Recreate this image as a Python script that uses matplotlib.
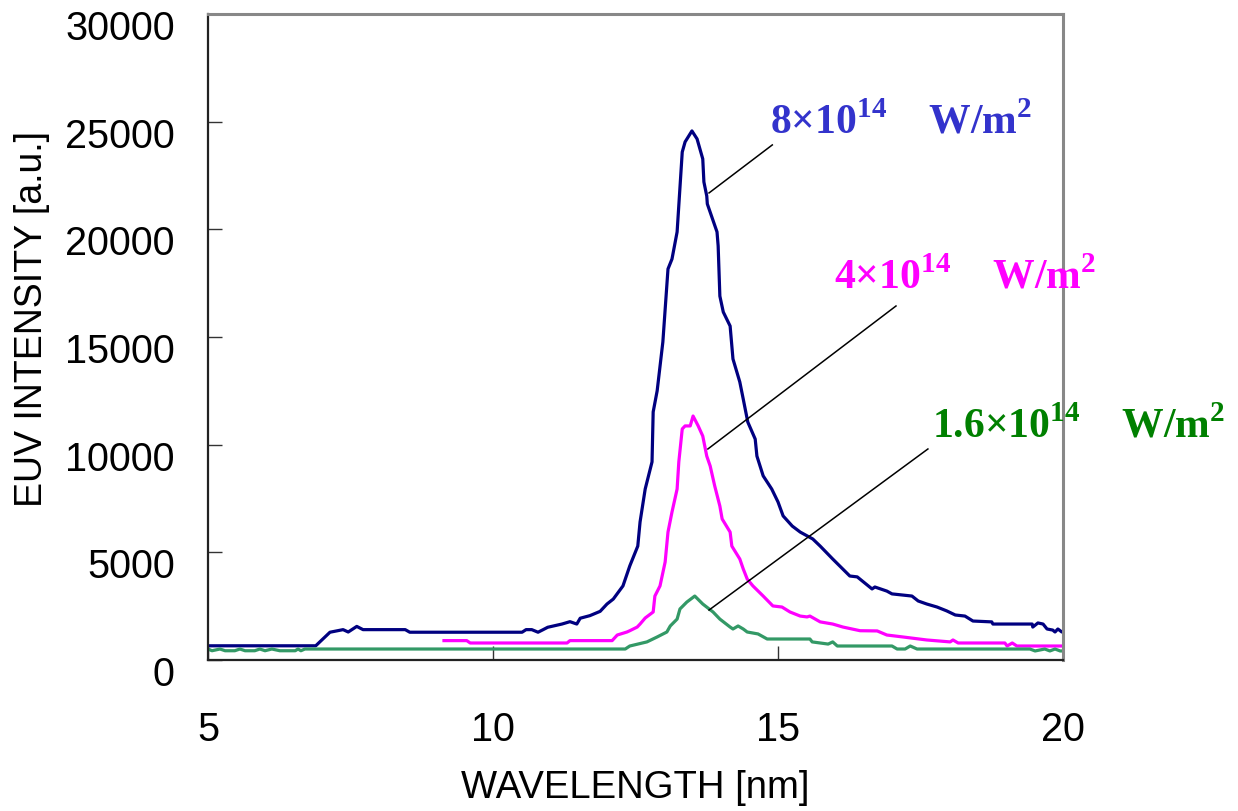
import matplotlib.pyplot as plt
import matplotlib.transforms as mtransforms

plt.rcParams['font.family'] = ['Liberation Sans', 'DejaVu Sans']
plt.rcParams['mathtext.fontset'] = 'custom'
plt.rcParams['mathtext.rm'] = 'Liberation Serif:bold'
plt.rcParams['mathtext.bf'] = 'Liberation Serif:bold'

# EUV spectra at three laser intensities
wl_8e14 = [5.00, 6.89, 7.14, 7.37, 7.46, 7.61, 7.72, 8.46, 8.54, 10.51, 10.58, 10.68,
           10.79, 10.88, 10.96, 11.21, 11.35, 11.47, 11.53, 11.70, 11.88, 12.00, 12.11,
           12.28, 12.40, 12.54, 12.58, 12.67, 12.79, 12.81, 12.88, 12.98, 13.07, 13.14,
           13.23, 13.32, 13.37, 13.49, 13.58, 13.68, 13.70, 13.75, 13.76, 13.93, 13.95,
           13.98, 14.04, 14.16, 14.21, 14.33, 14.39, 14.47, 14.60, 14.63, 14.74, 14.89,
           15.00, 15.09, 15.25, 15.39, 15.61, 15.74, 15.96, 16.26, 16.39, 16.65, 16.70,
           16.91, 17.00, 17.35, 17.46, 17.61, 17.79, 17.96, 18.11, 18.28, 18.42, 18.75,
           18.77, 19.46, 19.47, 19.56, 19.65, 19.72, 19.82, 19.86, 19.91, 19.98, 20.00]
int_8e14 = [660, 660, 1290, 1410, 1300, 1560, 1410, 1410, 1290, 1290, 1410, 1410,
            1290, 1410, 1520, 1670, 1780, 1670, 1940, 2060, 2260, 2600, 2830,
            3440, 4370, 5290, 6410, 7940, 9200, 11520, 12500, 14770, 18160, 18620,
            19880, 23590, 24060, 24570, 24200, 23270, 22200, 21550, 21180, 19880, 19230,
            16900, 16160, 15510, 13980, 12910, 12120, 11050, 10260, 9470, 8550, 7940,
            7340, 6690, 6220, 5940, 5620, 5290, 4690, 3900, 3860, 3300, 3390,
            3200, 3070, 2970, 2740, 2600, 2460, 2280, 2090, 2040, 1810, 1770,
            1670, 1670, 1530, 1720, 1670, 1440, 1390, 1300, 1440, 1300, 1300]

wl_4e14 = [9.14, 9.54, 9.60, 11.30, 11.35, 12.09, 12.18, 12.35, 12.40, 12.53, 12.58,
           12.67, 12.81, 12.84, 12.93, 13.02, 13.07, 13.14, 13.23, 13.26, 13.32, 13.37,
           13.46, 13.51, 13.60, 13.68, 13.75, 13.81, 13.89, 13.98, 14.02, 14.16, 14.19,
           14.33, 14.39, 14.46, 14.56, 14.74, 14.91, 15.07, 15.21, 15.39, 15.51, 15.56,
           15.74, 15.96, 16.14, 16.44, 16.74, 16.91, 17.19, 17.61, 18.02, 18.07, 18.16,
           18.98, 19.02, 19.11, 19.19, 20.00]
int_4e14 = [900, 900, 790, 790, 900, 900, 1160, 1300, 1360, 1530, 1670,
            1950, 2230, 2970, 3440, 4550, 5940, 6870, 7940, 9200, 10730, 10870,
            10870, 11330, 10870, 10400, 9470, 9010, 8080, 7150, 6550, 5940, 5290,
            4690, 4230, 3760, 3440, 2970, 2510, 2460, 2230, 2040, 2000, 2040,
            1770, 1670, 1530, 1360, 1350, 1160, 1070, 930, 840, 930, 790,
            790, 650, 790, 650, 650]

wl_16e14 = [5.00, 5.07, 5.21, 5.30, 5.47, 5.56, 5.65, 5.82, 5.91, 6.00, 6.12, 6.26,
            6.53, 6.58, 6.63, 6.70, 12.32, 12.40, 12.70, 12.88, 13.05, 13.11, 13.23,
            13.28, 13.40, 13.54, 13.68, 13.86, 13.98, 14.16, 14.21, 14.30, 14.39, 14.46,
            14.65, 14.81, 15.56, 15.60, 15.88, 15.96, 16.04, 17.00, 17.09, 17.23, 17.32,
            17.44, 19.42, 19.51, 19.68, 19.77, 19.86, 19.95, 20.00]
int_16e14 = [510, 430, 510, 430, 430, 510, 430, 430, 510, 430, 510, 430,
             430, 510, 430, 510, 510, 650, 840, 1070, 1300, 1580, 1900,
             2370, 2690, 2970, 2600, 2230, 1900, 1530, 1440, 1580, 1440, 1300,
             1210, 975, 975, 840, 740, 840, 650, 650, 510, 510, 650,
             510, 510, 420, 510, 420, 510, 420, 420]

labels = ["8×10$^{14}$    W/m$^{2}$",
          "4×10$^{14}$    W/m$^{2}$",
          "1.6×10$^{14}$    W/m$^{2}$"]
label_xy = [(14.86, 24520), (15.98, 17280), (17.70, 10400)]
leader_start = [(13.79, 21690), (13.77, 9800), (13.79, 2320)]
leader_end = [(14.90, 23920), (17.07, 16440), (17.63, 9800)]
label_colors = ['#3333CC', '#FF00FF', '#008000']

fig = plt.figure(figsize=(12.38, 8.12), dpi=100)
ax = fig.add_axes([208 / 1238, 1 - 661 / 812, 855 / 1238, 646 / 812])

ax.plot(wl_8e14, int_8e14, color='#000080', lw=2.3)
ax.plot(wl_4e14, int_4e14, color='#FF00FF', lw=2.3)
ax.plot(wl_16e14, int_16e14, color='#339966', lw=2.3)

for text, xy, p0, p1, c in zip(labels, label_xy, leader_start, leader_end, label_colors):
    ax.plot([p0[0], p1[0]], [p0[1], p1[1]], color='black', lw=1.1)
    ax.text(xy[0], xy[1], text, color=c, fontsize=30, fontweight='bold',
            family='Liberation Serif', ha='left', va='baseline', clip_on=False)

ax.set_xlim(5, 20)
ax.set_ylim(0, 30000)
ax.set_xticks([5, 10, 15, 20])
ax.set_yticks(range(0, 30001, 5000))
ax.tick_params(axis='both', direction='in', length=10, width=1, colors='#333333',
               labelcolor='black', labelsize=28.5)
ax.tick_params(axis='x', pad=36)
ax.tick_params(axis='y', pad=24)

# y tick labels sit a little below their ticks
shift = mtransforms.ScaledTranslation(0, -0.10, fig.dpi_scale_trans)
for lab in ax.get_yticklabels():
    lab.set_transform(lab.get_transform() + shift)

for side in ['left', 'bottom']:
    ax.spines[side].set_color('#222222')
    ax.spines[side].set_linewidth(1.6)
for side in ['top', 'right']:
    ax.spines[side].set_color('#888888')
    ax.spines[side].set_linewidth(2.2)

ax.set_xlabel("WAVELENGTH [nm]", fontsize=27.5)
ax.set_ylabel("EUV INTENSITY [a.u.]", fontsize=27)
ax.xaxis.set_label_coords(0.5, -0.168)
ax.yaxis.set_label_coords(-0.185, 0.53)

fig.savefig("out.png", dpi=100)
